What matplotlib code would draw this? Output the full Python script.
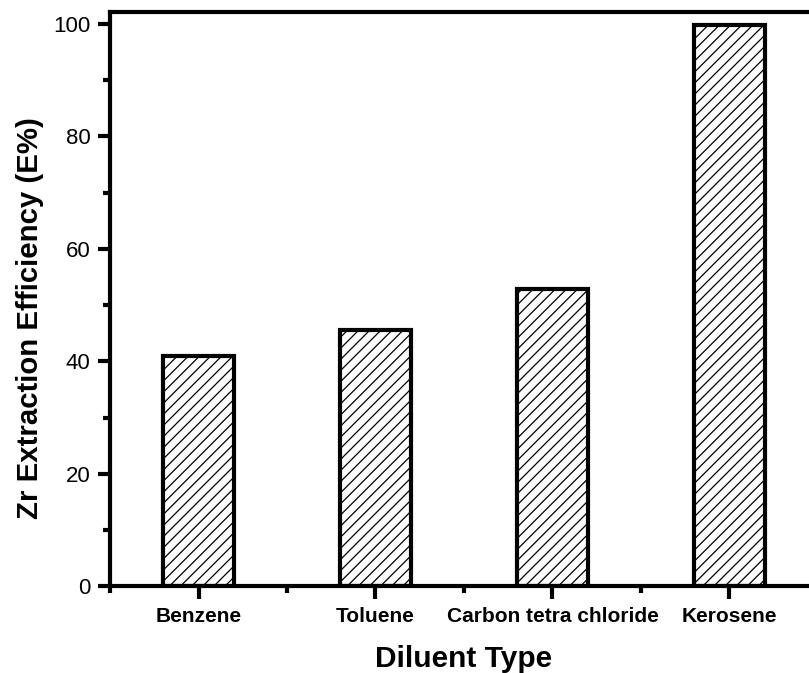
import numpy as np
import matplotlib.pyplot as plt
from matplotlib.ticker import MultipleLocator, FixedLocator

plt.rcParams['font.family'] = ['Liberation Sans', 'DejaVu Sans']
plt.rcParams['hatch.linewidth'] = 0.9

diluents = ['Benzene', 'Toluene', 'Carbon tetra chloride', 'Kerosene']
efficiency = [41.0, 45.6, 52.8, 99.8]

fig = plt.figure(figsize=(8.09, 6.73), dpi=100)
ax = fig.add_axes([0.136, 0.129, 0.875, 0.853])

pos = np.arange(1, len(diluents) + 1)
ax.bar(pos, efficiency, width=0.4, color='white', edgecolor='black',
       linewidth=3, hatch='///')

ax.set_xlim(0.5, 4.5)
ax.set_ylim(0, 102.1)
ax.set_xticks(pos)
ax.set_xticklabels(diluents, fontsize=15, fontweight='bold')
ax.xaxis.set_minor_locator(FixedLocator([0.5, 1.5, 2.5, 3.5]))
ax.yaxis.set_major_locator(MultipleLocator(20))
ax.yaxis.set_minor_locator(MultipleLocator(10))
ax.tick_params(axis='y', labelsize=16, pad=5)
ax.tick_params(axis='x', pad=6)
ax.tick_params(which='major', direction='out', length=9, width=3)
ax.tick_params(which='minor', direction='out', length=5, width=3)

for s in ax.spines.values():
    s.set_linewidth(3)

ax.set_xlabel('Diluent Type', fontsize=21.5, fontweight='bold', labelpad=14)
ax.set_ylabel('Zr Extraction Efficiency (E%)', fontsize=21.2, fontweight='bold')
ax.yaxis.set_label_coords(-0.093, 0.467)

fig.savefig('out.png', dpi=100)
